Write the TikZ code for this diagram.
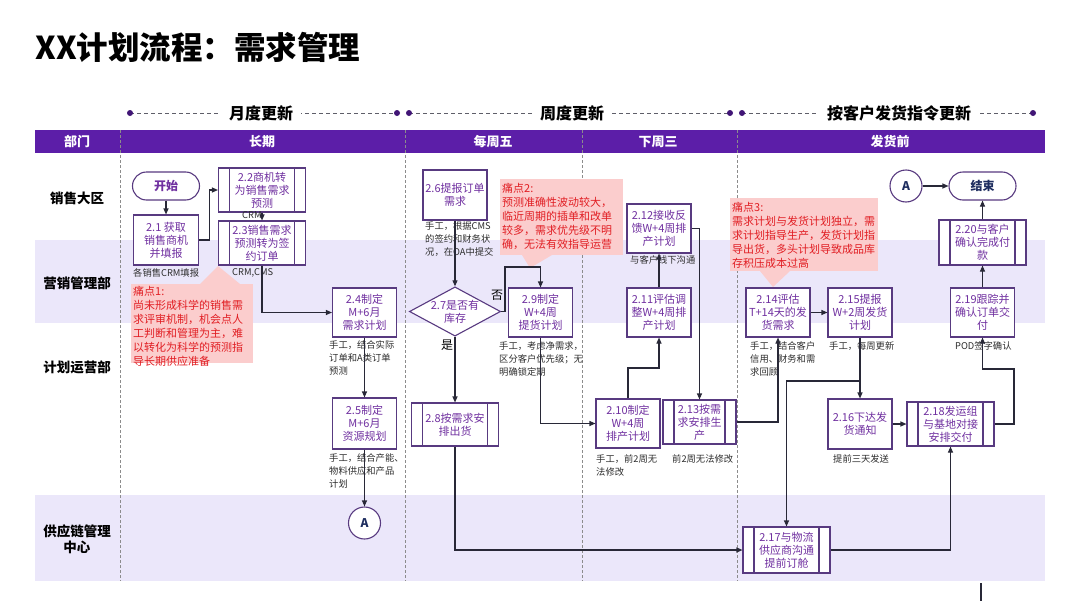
\documentclass[tikz,border=0pt]{standalone}
\usepackage{fontspec}
\setmainfont{Noto Sans CJK SC}
\usetikzlibrary{shapes.geometric,arrows.meta}

\definecolor{hdrpurple}{RGB}{92,30,168}
\definecolor{lanebg}{RGB}{235,231,250}
\definecolor{boxline}{RGB}{88,58,128}
\definecolor{boxtext}{RGB}{112,48,160}
\definecolor{flowline}{RGB}{40,40,55}
\definecolor{painred}{RGB}{225,30,35}
\definecolor{painfill}{RGB}{251,205,205}
\definecolor{navy}{RGB}{30,45,95}
\definecolor{notegray}{RGB}{45,45,45}

\newcommand\boxfont{\fontsize{11}{13}\selectfont}
\newcommand\notefont{\fontsize{9.3}{13}\selectfont}
\newcommand\painfont{\fontsize{11}{14}\selectfont}

\begin{document}
\begin{tikzpicture}
  [x=1pt,y=-1pt,
   proc/.style={draw=boxline,line width=1.1pt,fill=white,text=boxtext,align=center,
     font=\boxfont,inner sep=1pt,minimum width=64pt,minimum height=49pt},
   subproc/.style={proc,minimum width=87pt,minimum height=44pt,
     path picture={\draw[boxline,line width=1.1pt]
       ([xshift=11pt]path picture bounding box.north west) -- ([xshift=11pt]path picture bounding box.south west)
       ([xshift=-11pt]path picture bounding box.north east) -- ([xshift=-11pt]path picture bounding box.south east);}},
   terminal/.style={draw=boxline,line width=1.1pt,fill=white,rounded corners=14pt,
     minimum width=67pt,minimum height=28pt,font=\fontsize{12}{14}\selectfont\bfseries},
   conn/.style={circle,draw=boxline,line width=1.1pt,fill=white,minimum size=32pt,inner sep=0pt,
     text=navy,font=\fontsize{12}{14}\selectfont\bfseries},
   decision/.style={diamond,draw=boxline,line width=1.1pt,fill=white,text=boxtext,align=center,
     font=\boxfont,inner sep=0pt,aspect=1.85,minimum width=90pt,minimum height=49pt},
   note/.style={anchor=north west,inner sep=0pt,align=left,text=notegray,font=\notefont},
   pain/.style={anchor=north west,inner sep=0pt,align=left,text=painred,font=\painfont},
   flow/.style={draw=flowline,line width=1.1pt,-{Triangle[length=6pt,width=5pt]}},
   lane/.style={font=\fontsize{13.5}{16}\selectfont\bfseries,align=center},
   hdr/.style={text=white,font=\fontsize{13}{15}\selectfont\bfseries},
   period/.style={fill=white,inner xsep=8pt,font=\fontsize{16}{18}\selectfont\bfseries},
   divider/.style={draw=black!45,line width=0.7pt,dash pattern=on 3pt off 2pt}]

  \useasboundingbox (0,0) rectangle (1080,608);
  \fill[white] (0,0) rectangle (1080,608);

  % title
  \node[anchor=west,font=\fontsize{31.5}{34}\selectfont\bfseries] (title) at (32,47) {XX计划流程：需求管理};

  % update periods
  \foreach \xa/\xb/\xm/\txt in {130/397/261/月度更新, 409/730/572/周度更新, 742/1033/899/按客户发货指令更新}{
    \draw[flowline!75,line width=0.9pt,dash pattern=on 4pt off 3pt] (\xa,113) -- (\xb,113);
    \node[period] at (\xm,113) {\txt};
    \fill[hdrpurple!70!black] (\xa,113) circle (3pt) (\xb,113) circle (3pt);
  }

  % lanes and header
  \fill[lanebg] (35,240) rectangle (1045,323);
  \fill[lanebg] (35,495) rectangle (1045,581);
  \fill[hdrpurple] (35,130) rectangle (1045,153);
  \foreach \x in {120,405,582,737}
    \draw[divider] (\x,130) -- (\x,581);

  \node[hdr] (hDept) at (77,141.5) {部门};
  \node[hdr] (hLong) at (262,141.5) {长期};
  \node[hdr] (hFri)  at (493,141.5) {每周五};
  \node[hdr] (hWed)  at (658,141.5) {下周三};
  \node[hdr] (hShip) at (890,141.5) {发货前};

  \node[lane] (lSales) at (77,198) {销售大区};
  \node[lane] (lMkt)   at (77,283) {营销管理部};
  \node[lane] (lPlan)  at (77,367) {计划运营部};
  \node[lane] (lScm)   at (77,539) {供应链管理\\中心};

  % pain points
  \fill[painfill] (131,284) rectangle (253,363);
  \fill[painfill] (200,284) -- (218,266) -- (240,284) -- cycle;
  \node[pain] (p1) at (133,286) {痛点1:\\尚未形成科学的销售需\\求评审机制，机会点人\\工判断和管理为主，难\\以转化为科学的预测指\\导长期供应准备};

  \fill[painfill] (500,179) rectangle (623,255);
  \fill[painfill] (522,255) -- (530,268) -- (552,255) -- cycle;
  \node[pain] (p2) at (502,183) {痛点2:\\预测准确性波动较大，\\临近周期的插单和改单\\较多，需求优先级不明\\确，无法有效指导运营};

  \fill[painfill] (730,198) rectangle (878,271);
  \fill[painfill] (760,271) -- (773,287) -- (790,271) -- cycle;
  \node[pain] (p3) at (732,202) {痛点3:\\需求计划与发货计划独立，需\\求计划指导生产，发货计划指\\导出货，多头计划导致成品库\\存积压成本过高};

  % process steps
  \node[terminal,text=boxtext] (startnode) at (166,186) {开始};
  \node[proc,minimum width=65pt,minimum height=50pt] (n21) at (166,240) {2.1 获取\\销售商机\\并填报};
  \node[subproc] (n22) at (262,190) {2.2商机转\\为销售需求\\预测};
  \node[subproc] (n23) at (262,243) {2.3销售需求\\预测转为签\\约订单};
  \node[proc] (n24) at (364.5,312.5) {2.4制定\\M+6月\\需求计划};
  \node[proc,minimum height=51pt] (n25) at (364.5,423.5) {2.5制定\\M+6月\\资源规划};
  \node[conn] (aLow) at (364.5,523) {A};

  \node[proc,minimum height=50pt] (n26) at (455,195) {2.6提报订单\\需求};
  \node[decision] (n27) at (455,311.5) {2.7是否有\\库存};
  \node[subproc,minimum height=43pt] (n28) at (455,424.5) {2.8按需求安\\排出货};
  \node[proc] (n29) at (540.5,312.5) {2.9制定\\W+4周\\提货计划};

  \node[proc] (n210) at (628,423.5) {2.10制定\\W+4周\\排产计划};
  \node[proc] (n211) at (659,312.5) {2.11评估调\\整W+4周排\\产计划};
  \node[proc] (n212) at (659,228.5) {2.12接收反\\馈W+4周排\\产计划};
  \node[subproc,minimum width=73pt] (n213) at (699.5,422) {2.13按需\\求安排生\\产};

  \node[proc] (n214) at (778,312.5) {2.14评估\\T+14天的发\\货需求};
  \node[proc] (n215) at (860,312.5) {2.15提报\\W+2周发货\\计划};
  \node[proc,minimum height=50pt] (n216) at (860,424) {2.16下达发\\货通知};
  \node[subproc,minimum height=46pt] (n217) at (786.5,550) {2.17与物流\\供应商沟通\\提前订舱};
  \node[subproc] (n218) at (950.5,424) {2.18发运组\\与基地对接\\安排交付};
  \node[proc] (n219) at (982.5,312.5) {2.19跟踪并\\确认订单交\\付};
  \node[subproc,minimum height=45pt] (n220) at (982.5,242.5) {2.20与客户\\确认完成付\\款};
  \node[terminal,text=navy] (endnode) at (982.5,186) {结束};
  \node[conn] (aTop) at (906,186) {A};

  % notes
  \node[note] (t21)  at (133,268) {各销售CRM填报};
  \node[note] (t23)  at (232,268) {CRM,CMS};
  \node[note] (tcrm) at (242,211) {CRM};
  \node[note] (t24)  at (329,340) {手工，结合实际\\订单和A类订单\\预测};
  \node[note] (t25)  at (329,453) {手工，结合产能、\\物料供应和产品\\计划};
  \node[note] (t26)  at (425,221) {手工，根据CMS\\的签约和财务状\\况，在OA中提交};
  \node[note] (t29)  at (499,341) {手工，考虑净需求，\\区分客户优先级；无\\明确锁定期};
  \node[note] (t210) at (596,454) {手工，前2周无\\法修改};
  \node[note] (t212) at (630,255) {与客户线下沟通};
  \node[note] (t213) at (672,454) {前2周无法修改};
  \node[note] (t214) at (750,341) {手工，结合客户\\信用、财务和需\\求回顾};
  \node[note] (t215) at (829,341) {手工，每周更新};
  \node[note] (t216) at (833,454) {提前三天发送};
  \node[note] (t219) at (955,341) {POD签字确认};

  \node[font=\fontsize{12}{14}\selectfont] (lblNo)  at (497,295) {否};
  \node[font=\fontsize{12}{14}\selectfont] (lblYes) at (447,345) {是};

  % connectors
  \foreach \src/\dst in {startnode/n21,n22/n23,n24/n25,n25/aLow,n26/n27,n27/n28,
                         n211/n212,n214/n215,n215/n216,n216/n218,n219/n220,n220/endnode,aTop/endnode}
    \draw[flow] (\src) -- (\dst);

  \coordinate (k1) at (505,267);
  \coordinate (k2) at (628,368);
  \coordinate (k3) at (860,381);
  \coordinate (k4) at (1014,369);

  \draw[flow] (n21.east) -- ++(10,0) |- (n22.west);
  \draw[flow] (n23.south) |- (n24.west);
  \draw[flow] (n27.east) -| (k1) -| (n29.north);
  \draw[flow] (n29.south) |- (n210.west);
  \draw[flow] (n210.north) -- (k2) -| (n211.south);
  \draw[flow] (n212.east) -| (n213.north);
  \draw[flow] (n213.east) -| (n214.south);
  \draw[flow] (k3) -| (n217.north);
  \draw[flow] (n28.south) |- (n217.west);
  \draw[flow] (n217.east) -| (n218.south);
  \draw[flow] (n218.east) -| (k4) -| (n219.south);

  \draw[flowline,line width=1.2pt] (981,583) -- (981,601);
\end{tikzpicture}
\end{document}
